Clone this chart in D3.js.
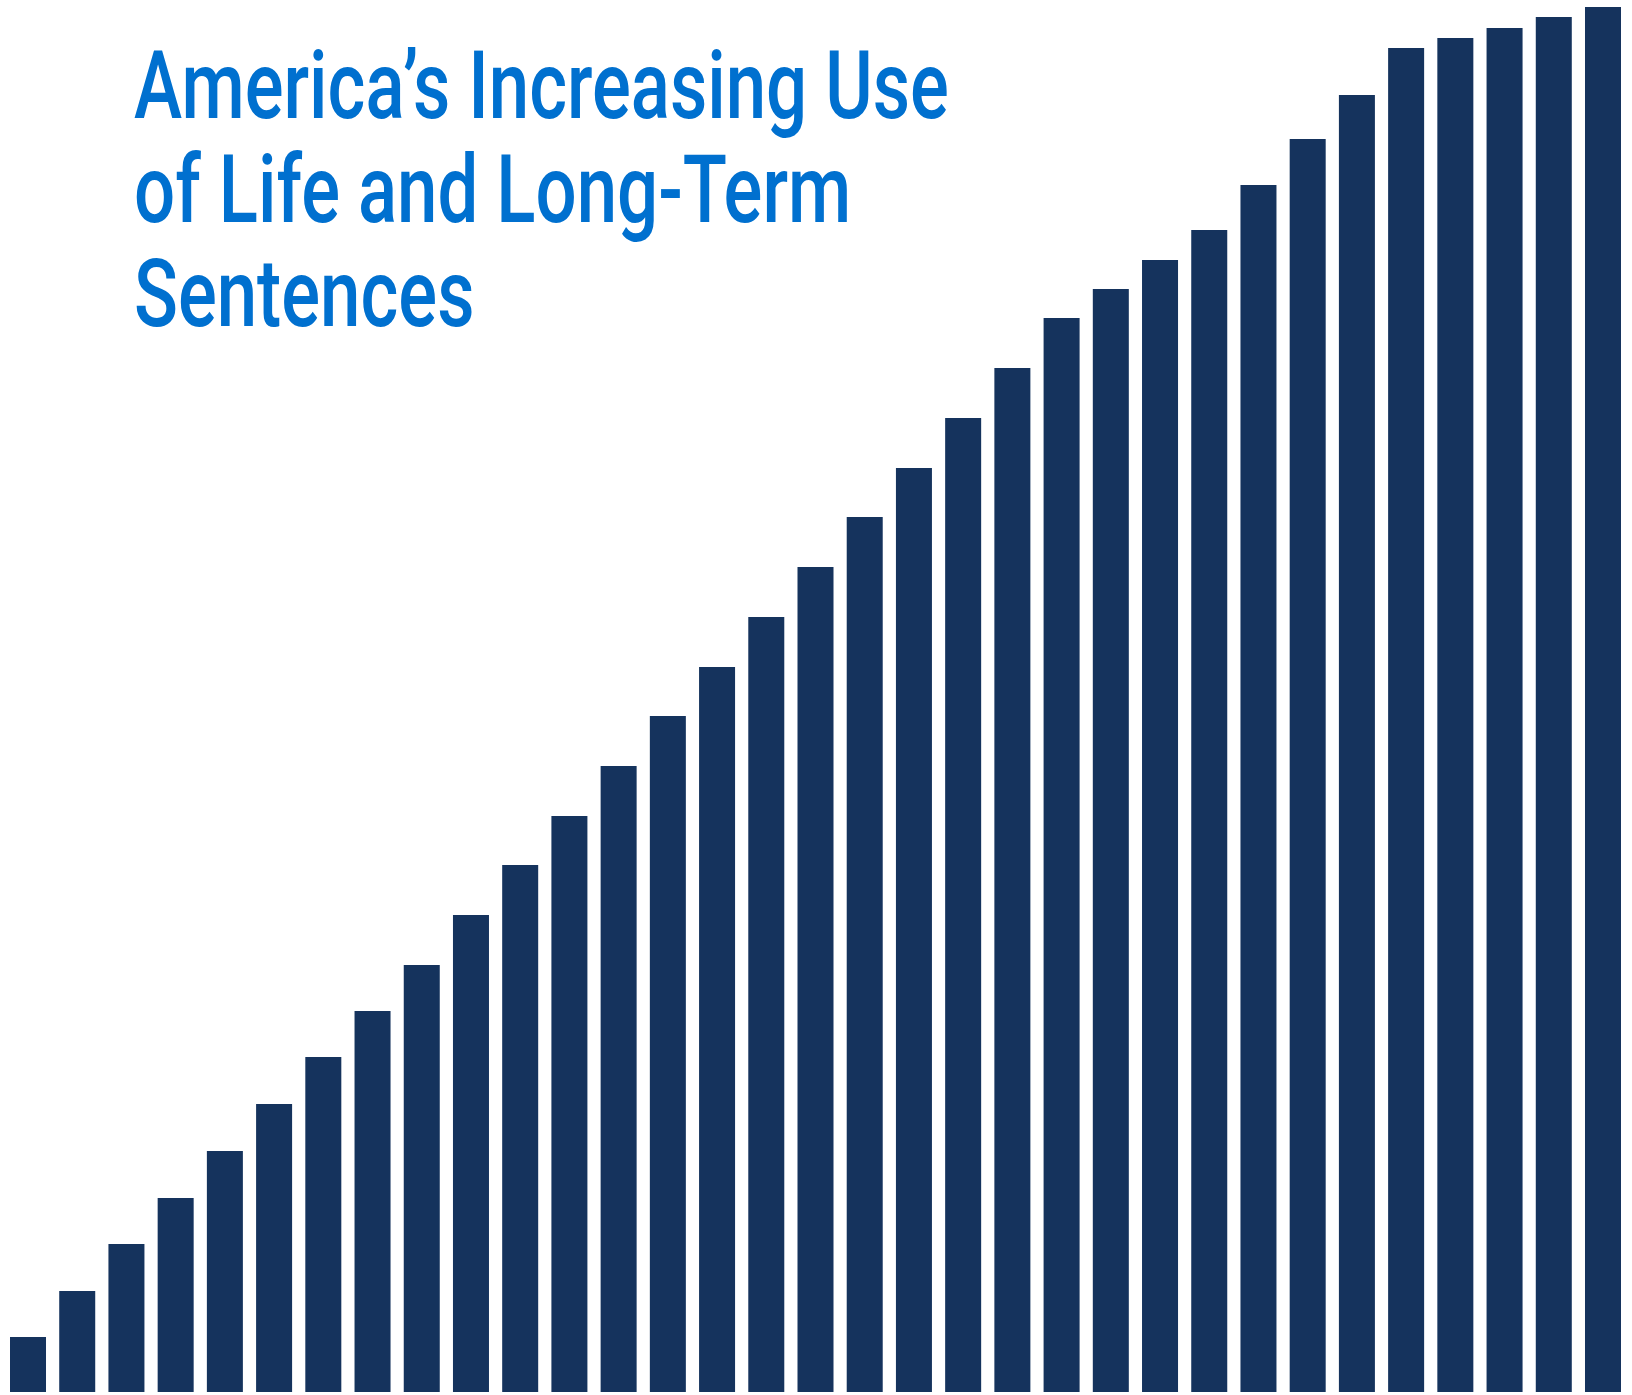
<!DOCTYPE html>
<html><head><meta charset="utf-8">
<script src="https://cdn.jsdelivr.net/npm/d3@7"></script>
<style>html,body{margin:0;padding:0;background:#fff;}svg{display:block;}</style>
</head><body>
<svg id="chart" width="1632" height="1395"></svg>
<script>
const categories = d3.range(1, 34).map(i => "Bar " + i);
const values = [55, 101, 148, 194, 241, 288, 335, 381, 427, 477, 527, 576, 626, 676, 725, 775, 825, 875, 924, 974, 1024, 1074, 1103, 1132, 1162, 1207, 1253, 1297, 1344, 1354, 1364, 1375, 1385];
const titleLines = ["America\u2019s Increasing Use", "of Life and Long-Term", "Sentences"];

const svg = d3.select("#chart");
const x = d3.scaleBand().domain(categories).range([10, 1621]).paddingInner(0.2685).paddingOuter(0);
const y = d3.scaleLinear().domain([0, 1385]).range([1392, 7]);

svg.selectAll("rect.bar").data(values).join("rect")
  .attr("class", "bar")
  .attr("x", (d, i) => x(categories[i]))
  .attr("width", x.bandwidth())
  .attr("y", d => y(d))
  .attr("height", d => y(0) - y(d))
  .attr("fill", "#15335d");

const tg = svg.append("g");
const t = tg.selectAll("text").data(titleLines).join("text")
  .attr("x", 0)
  .attr("y", (d, i) => 118 + i * 104)
  .attr("font-family", "Roboto, 'Noto Sans', sans-serif")
  .attr("font-size", 95)
  .attr("font-weight", 500)
  .attr("fill", "#0070cf")
  .text(d => d);
const len = t.nodes()[0].getComputedTextLength();
const sx = 815 / len;
tg.attr("transform", `translate(134,0) scale(${sx},1)`);
</script>
</body></html>
